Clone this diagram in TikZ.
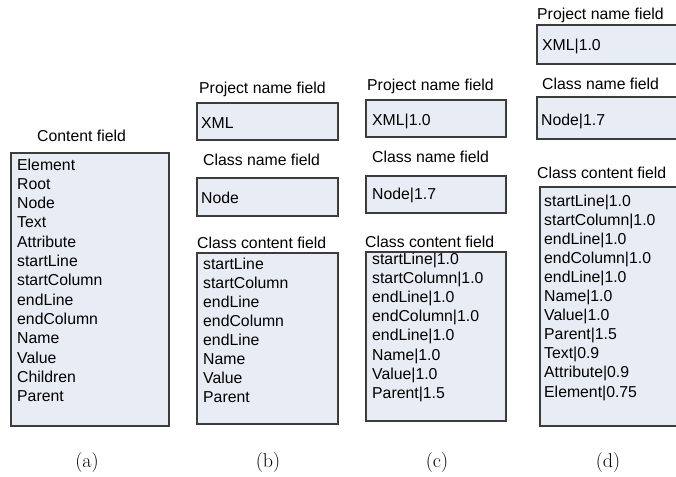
\documentclass[tikz,border=0pt]{standalone}
\usepackage{fontspec}
\newfontfamily\arialfont{Liberation Sans}
\definecolor{boxfill}{RGB}{232,236,244}
\definecolor{boxline}{RGB}{60,60,60}
\tikzset{
  fieldbox/.style={draw=boxline, fill=boxfill, line width=1.2pt},
  fieldtext/.style={anchor=base west, inner sep=0pt, font=\arialfont\fontsize{15.8}{19}\selectfont, text=black},
  caption/.style={anchor=center, inner sep=0pt, font=\fontsize{20}{24}\selectfont}
}
\begin{document}
\begin{tikzpicture}[x=1pt, y=-1pt]
\useasboundingbox (0,0) rectangle (676,476);
\clip (0,0) rectangle (676,476);

% (a) content field of the whole project
\node[fieldtext] (ta) at (37,141) {Content field};
\draw[fieldbox] (11,153) rectangle (169,426) coordinate (boxa);
\foreach \w [count=\i from 0] in {Element,Root,Node,Text,Attribute,startLine,startColumn,endLine,endColumn,Name,Value,Children,Parent}
  \node[fieldtext] (a\i) at (17,170+19.33*\i) {\w};
\node[caption] (capa) at (87,463) {(a)};

% (b) fields of one class
\node[fieldtext] (tbp) at (199,94) {Project name field};
\draw[fieldbox] (197,103) rectangle (338,140);
\node[fieldtext] (bp) at (201,128) {XML};
\node[fieldtext] (tbc) at (203,165) {Class name field};
\draw[fieldbox] (197,178) rectangle (338,216);
\node[fieldtext] (bc) at (201,203) {Node};
\node[fieldtext] (tbk) at (197,248) {Class content field};
\draw[fieldbox] (197,253) rectangle (338,424);
\foreach \w [count=\i from 0] in {startLine,startColumn,endLine,endColumn,endLine,Name,Value,Parent}
  \node[fieldtext] (b\i) at (203,269+19.0*\i) {\w};
\node[caption] (capb) at (268,463) {(b)};

% (c) the same fields with weights
\node[fieldtext] (tcp) at (367,91) {Project name field};
\draw[fieldbox] (366,100) rectangle (506,137);
\node[fieldtext] (cp) at (372,125) {XML|1.0};
\node[fieldtext] (tcc) at (372,162) {Class name field};
\draw[fieldbox] (366,176) rectangle (506,213);
\node[fieldtext] (cc) at (372,199) {Node|1.7};
\node[fieldtext] (tck) at (365,247) {Class content field};
\draw[fieldbox] (366,252) rectangle (506,421);
\foreach \w [count=\i from 0] in {startLine|1.0,startColumn|1.0,endLine|1.0,endColumn|1.0,endLine|1.0,Name|1.0,Value|1.0,Parent|1.5}
  \node[fieldtext] (c\i) at (372,264+19.2*\i) {\w};
\node[caption] (capc) at (437,463) {(c)};

% (d) weighted fields extended with inherited entries
\node[fieldtext] (tdp) at (537,20) {Project name field};
\draw[fieldbox] (537,25) rectangle (690,64);
\node[fieldtext] (dp) at (542,51) {XML|1.0};
\node[fieldtext] (tdc) at (542,90) {Class name field};
\draw[fieldbox] (537,97) rectangle (690,139);
\node[fieldtext] (dc) at (541,125) {Node|1.7};
\node[fieldtext] (tdk) at (537,178) {Class content field};
\draw[fieldbox] (540,187) rectangle (690,426);
\foreach \w [count=\i from 0] in {startLine|1.0,startColumn|1.0,endLine|1.0,endColumn|1.0,endLine|1.0,Name|1.0,Value|1.0,Parent|1.5,Text|0.9,Attribute|0.9,Element|0.75}
  \node[fieldtext] (d\i) at (544,206+19.1*\i) {\w};
\node[caption] (capd) at (608,463) {(d)};
\end{tikzpicture}
\end{document}
